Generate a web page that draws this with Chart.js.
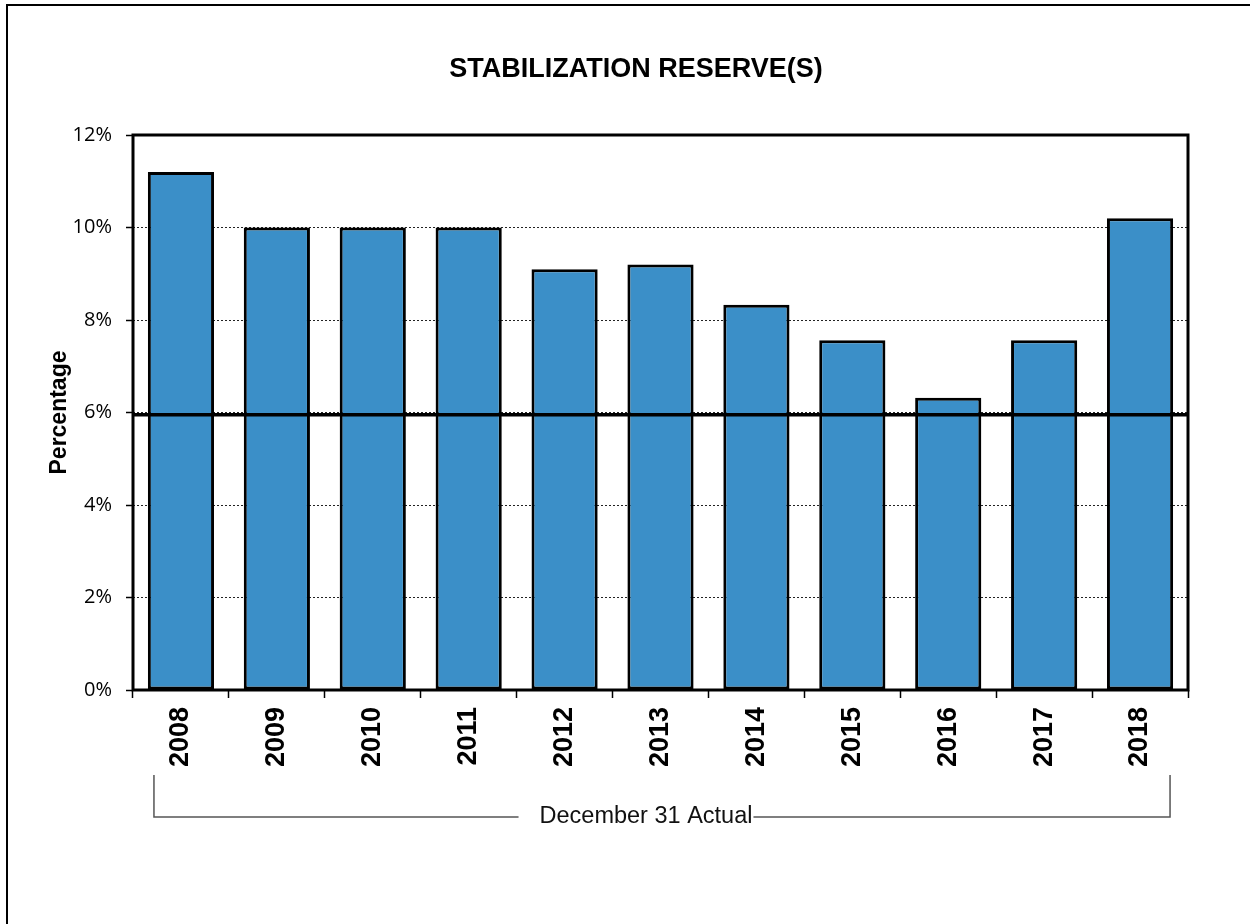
<!DOCTYPE html>
<html>
<head>
<meta charset="utf-8">
<title>Stabilization Reserve(s)</title>
<script src="https://cdn.jsdelivr.net/npm/chart.js@4/dist/chart.umd.min.js"></script>
<style>
  html, body { margin: 0; padding: 0; background: #fff; }
  #wrap { position: relative; width: 1250px; height: 924px; overflow: hidden; }
  #frame {
    position: absolute; left: 6px; top: 4px; width: 1300px; height: 1000px;
    border-left: 2px solid #000; border-top: 2px solid #000; pointer-events: none;
  }
  canvas { position: absolute; left: 0; top: 0; }
</style>
</head>
<body>
<div id="wrap">
  <canvas id="chart-reserve" width="1250" height="924"></canvas>
  <div id="frame"></div>
</div>
<script>
const TITLE = 'STABILIZATION RESERVE(S)';
const Y_TITLE = 'Percentage';
const GROUP_LABEL = 'December 31 Actual';
const years = ['2008', '2009', '2010', '2011', '2012', '2013', '2014', '2015', '2016', '2017', '2018'];
const reservePct = [11.2, 10.0, 10.0, 10.0, 9.1, 9.2, 8.33, 7.56, 6.32, 7.56, 10.2];
const targetPct = 5.95;
const yTicks = [0, 2, 4, 6, 8, 10, 12];

const ARIAL = '"Liberation Sans", Arial, sans-serif';
const BAR_BLUE = '#3b8fc8';

// title, plot frame, 6% reference line and the bracket under the years
const decorations = {
  id: 'decorations',
  afterDatasetsDraw(chart) {
    const { ctx, chartArea: a, scales: { y } } = chart;
    ctx.save();
    // reference line
    const ty = y.getPixelForValue(targetPct);
    ctx.strokeStyle = '#000';
    ctx.lineWidth = 3.5;
    ctx.beginPath();
    ctx.moveTo(a.left, ty);
    ctx.lineTo(a.right, ty);
    ctx.stroke();
    // plot frame
    ctx.lineWidth = 3;
    ctx.strokeRect(a.left, a.top, a.right - a.left, a.bottom - a.top);
    ctx.restore();
  },
  afterDraw(chart) {
    const { ctx, scales: { x } } = chart;
    ctx.save();
    ctx.fillStyle = '#000';
    ctx.textAlign = 'center';
    ctx.textBaseline = 'middle';
    ctx.font = 'bold 27px ' + ARIAL;
    ctx.fillText(TITLE, 636, 70);

    const x1 = x.getPixelForValue(0) - 27;
    const x2 = x.getPixelForValue(years.length - 1) + 30;
    const top = 775, base = 817;
    ctx.font = '23.5px ' + ARIAL;
    const tw = ctx.measureText(GROUP_LABEL).width;
    const tx = 646;
    ctx.fillStyle = '#111';
    ctx.fillText(GROUP_LABEL, tx, base);
    ctx.strokeStyle = '#555';
    ctx.lineWidth = 1.5;
    ctx.beginPath();
    ctx.moveTo(x1, top);
    ctx.lineTo(x1, base);
    ctx.lineTo(tx - tw / 2 - 21, base);
    ctx.moveTo(tx + tw / 2 + 1, base);
    ctx.lineTo(x2, base);
    ctx.lineTo(x2, top);
    ctx.stroke();
    ctx.restore();
  }
};

new Chart(document.getElementById('chart-reserve'), {
  type: 'bar',
  data: {
    labels: years,
    datasets: [{
      data: reservePct,
      backgroundColor: BAR_BLUE,
      borderColor: '#000',
      borderWidth: 3,
      borderSkipped: false,
      barPercentage: 0.69,
      categoryPercentage: 1,
    }],
  },
  options: {
    responsive: false,
    animation: false,
    layout: { padding: { left: 0, right: 62, top: 135, bottom: 84 } },
    plugins: {
      legend: { display: false },
      title: { display: false },
      tooltip: { enabled: false },
    },
    scales: {
      x: {
        afterFit: s => { s.height = 150; },
        border: { display: false },
        grid: { drawOnChartArea: false, drawTicks: true, tickLength: 8, tickColor: '#000', tickWidth: 1.5 },
        ticks: {
          color: '#000',
          font: { family: ARIAL, size: 27, weight: 'bold' },
          minRotation: 90,
          maxRotation: 90,
          padding: 9,
        },
      },
      y: {
        min: 0,
        max: 12,
        afterFit: s => { s.width = 133; },
        afterBuildTicks: s => { s.ticks = yTicks.map(v => ({ value: v })); },
        border: { display: false, dash: [2, 2] },
        grid: { color: '#222', lineWidth: 1, tickLength: 7, tickColor: '#000', tickWidth: 1.5, tickBorderDash: [] },
        ticks: {
          color: '#000',
          font: { family: '"Open Sans", sans-serif', size: 20 },
          padding: 14,
          callback: v => v + '%',
        },
        title: {
          display: true,
          text: Y_TITLE,
          color: '#000',
          font: { family: ARIAL, size: 23, weight: 'bold' },
          padding: { top: 46, bottom: 0 },
        },
      },
    },
  },
  plugins: [decorations],
});
</script>
</body>
</html>
